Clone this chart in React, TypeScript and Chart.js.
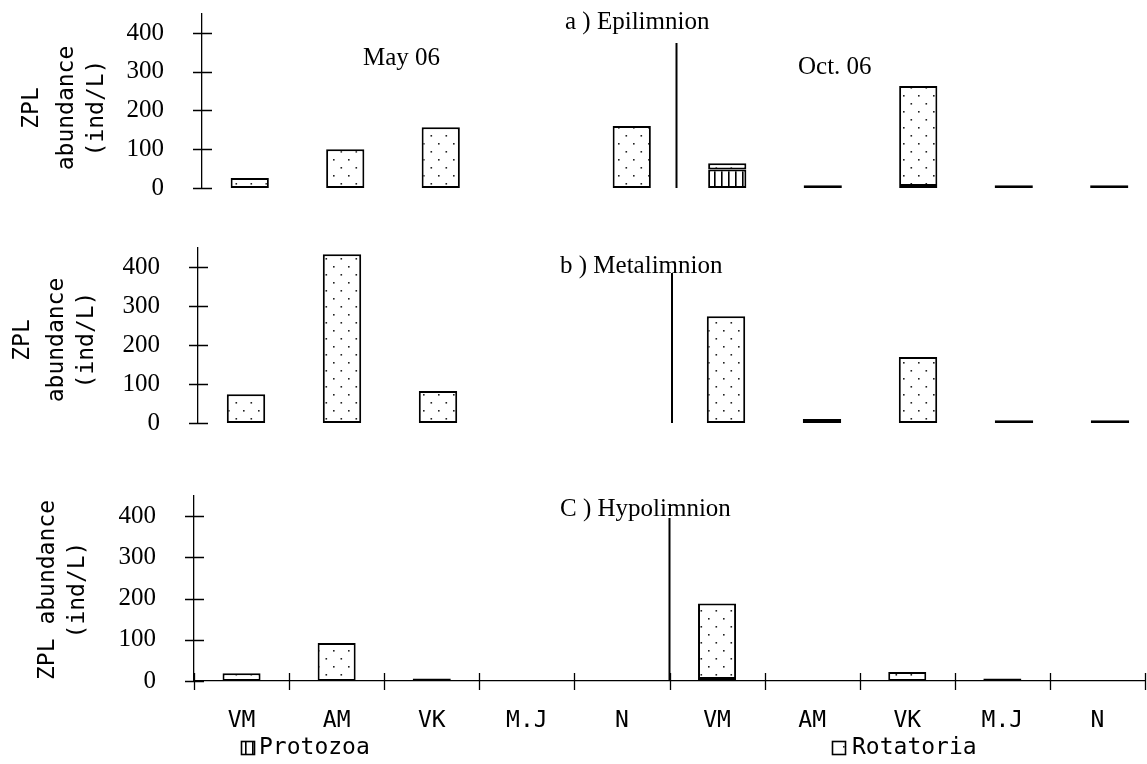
import React, { useEffect, useRef } from 'react';
import { Chart, registerables } from 'chart.js';

Chart.register(...registerables);

// Sampling sites: May 06 (first five) and Oct. 06 (last five)
const sites = ['VM', 'AM', 'VK', 'M.J', 'N', 'VM', 'AM', 'VK', 'M.J', 'N'];
const groups = ['Protozoa', 'Rotatoria'];
const seasons = ['May 06', 'Oct. 06'];
const yTickValues = [0, 100, 200, 300, 400];
const yAxisMax = 450;

// ZPL abundance (ind/L) per layer
const epiProtozoa = [0, 0, 0, 0, 0, 48, 7, 5, 7, 7];
const epiRotatoria = [26, 100, 157, 0, 160, 16, 0, 258, 0, 0];
const metaProtozoa = [0, 0, 0, 0, 0, 0, 0, 0, 7, 7];
const metaRotatoria = [74, 433, 82, 0, 0, 274, 10, 169, 0, 0];
const hypoProtozoa = [0, 0, 6, 0, 0, 5, 0, 0, 6, 0];
const hypoRotatoria = [19, 92, 0, 0, 0, 183, 0, 22, 0, 0];

const SERIF = '"Liberation Serif", "Times New Roman", serif';
const MONO = '"DejaVu Sans Mono", monospace';

type Panel = {
  title: string;
  protozoa: number[];
  rotatoria: number[];
  top: number;
  height: number;
  width: number;
  axisX: number;
  padTop: number;
  padBottom: number;
  padRight: number;
  showX: boolean;
  titleAt: [number, number];
  notes: [string, number, number][];
  yTitle: [string, number][];
  yTitleY: number;
  dividerDx: number;
  dividerTop: number;
  legend: boolean;
};

const panels: Panel[] = [
  {
    title: 'a ) Epilimnion',
    protozoa: epiProtozoa,
    rotatoria: epiRotatoria,
    top: -20, height: 232, width: 1160,
    axisX: 202, padTop: 33.6, padBottom: 24, padRight: 3,
    showX: false,
    titleAt: [565, 29],
    notes: [[seasons[0], 363, 65], [seasons[1], 798, 74]],
    yTitle: [['ZPL', 32], ['abundance', 67], ['(ind/L)', 97]],
    yTitleY: 108,
    dividerDx: -3, dividerTop: 43,
    legend: false,
  },
  {
    title: 'b ) Metalimnion',
    protozoa: metaProtozoa,
    rotatoria: metaRotatoria,
    top: 215, height: 232, width: 1160,
    axisX: 198, padTop: 32.5, padBottom: 24, padRight: 2,
    showX: false,
    titleAt: [560, 273],
    notes: [],
    yTitle: [['ZPL', 23], ['abundance', 57], ['(ind/L)', 87]],
    yTitleY: 340,
    dividerDx: -6, dividerTop: 273,
    legend: false,
  },
  {
    title: 'C ) Hypolimnion',
    protozoa: hypoProtozoa,
    rotatoria: hypoRotatoria,
    top: 455, height: 309, width: 1147,
    axisX: 194, padTop: 40.4, padBottom: 33, padRight: 2,
    showX: true,
    titleAt: [560, 516],
    notes: [],
    yTitle: [['ZPL abundance', 48], ['(ind/L)', 78]],
    yTitleY: 590,
    dividerDx: 0, dividerTop: 518,
    legend: true,
  },
];

// legend swatch x and text x (page coordinates), shared centre line
const legendSlots: [number, number][] = [[241, 259], [832, 852]];
const legendY = 748;

function dotPattern(): CanvasPattern | string {
  const c = document.createElement('canvas');
  c.width = 15;
  c.height = 16;
  const g = c.getContext('2d');
  if (!g) return '#fff';
  g.fillStyle = '#fff';
  g.fillRect(0, 0, 15, 16);
  g.fillStyle = '#222';
  g.fillRect(3, 3, 1.6, 1.6);
  g.fillRect(10.5, 11, 1.6, 1.6);
  return g.createPattern(c, 'repeat') || '#fff';
}

function stripePattern(): CanvasPattern | string {
  const c = document.createElement('canvas');
  c.width = 7;
  c.height = 4;
  const g = c.getContext('2d');
  if (!g) return '#888';
  g.fillStyle = '#fff';
  g.fillRect(0, 0, 7, 4);
  g.fillStyle = '#000';
  g.fillRect(0, 0, 1.6, 4);
  return g.createPattern(c, 'repeat') || '#888';
}

function decorPlugin(p: Panel) {
  return {
    id: 'panelDecor',
    afterDraw(chart: any) {
      const { ctx, chartArea } = chart;
      const xs = chart.scales.x;
      const ys = chart.scales.y;
      const oy = p.top;
      ctx.save();
      ctx.strokeStyle = '#000';
      ctx.lineWidth = 1.3;
      ctx.beginPath();
      for (const v of yTickValues) {
        const py = Math.round(ys.getPixelForValue(v)) + 0.5;
        ctx.moveTo(chartArea.left - 9, py);
        ctx.lineTo(chartArea.left + 10, py);
      }
      if (p.showX) {
        for (let i = 0; i <= sites.length; i++) {
          const px = Math.round(xs.getPixelForValue(i - 0.5)) + 0.5;
          ctx.moveTo(px, chartArea.bottom - 8);
          ctx.lineTo(px, chartArea.bottom + 9);
        }
      }
      ctx.stroke();

      // separator between the May and October sampling campaigns
      const sx = xs.getPixelForValue(4.5) + p.dividerDx;
      ctx.lineWidth = 2;
      ctx.beginPath();
      ctx.moveTo(sx, p.dividerTop - oy);
      ctx.lineTo(sx, chartArea.bottom);
      ctx.stroke();

      ctx.fillStyle = '#000';
      ctx.font = `25px ${SERIF}`;
      ctx.textAlign = 'left';
      ctx.textBaseline = 'alphabetic';
      ctx.fillText(p.title, p.titleAt[0], p.titleAt[1] - oy);
      for (const [t, x, y] of p.notes) ctx.fillText(t, x, y - oy);

      // rotated y-axis title, one column per line
      ctx.font = `23px ${MONO}`;
      ctx.textAlign = 'center';
      ctx.textBaseline = 'middle';
      for (const [t, x] of p.yTitle) {
        ctx.save();
        ctx.translate(x, p.yTitleY - oy);
        ctx.rotate(-Math.PI / 2);
        ctx.fillText(t, 0, 0);
        ctx.restore();
      }

      if (p.legend) {
        chart.data.datasets.forEach((ds: any, i: number) => {
          const [bx, tx] = legendSlots[i];
          const by = legendY - 7 - oy;
          ctx.fillStyle = ds.backgroundColor;
          ctx.fillRect(bx, by, 14, 14);
          ctx.lineWidth = 1.6;
          ctx.strokeStyle = '#000';
          ctx.strokeRect(bx + 0.5, by + 0.5, 13, 13);
          ctx.fillStyle = '#000';
          ctx.font = `23px ${MONO}`;
          ctx.textAlign = 'left';
          ctx.textBaseline = 'middle';
          ctx.fillText(ds.label, tx, legendY - oy);
        });
      }
      ctx.restore();
    },
  };
}

function PanelChart({ p }: { p: Panel }) {
  const ref = useRef<HTMLCanvasElement | null>(null);
  useEffect(() => {
    if (!ref.current) return;
    const stripes = stripePattern();
    const dots = dotPattern();
    const barStyle = {
      borderColor: '#000',
      borderWidth: 2,
      borderSkipped: false,
      barPercentage: 0.4,
      categoryPercentage: 1,
    };
    const chart = new Chart(ref.current, {
      type: 'bar',
      data: {
        labels: sites,
        datasets: [
          { label: groups[0], data: p.protozoa, backgroundColor: stripes as any, ...barStyle },
          { label: groups[1], data: p.rotatoria, backgroundColor: dots as any, ...barStyle },
        ],
      },
      options: {
        responsive: false,
        animation: false,
        events: [],
        layout: { padding: { left: 0, top: p.padTop, right: p.padRight, bottom: p.padBottom } },
        plugins: { legend: { display: false }, tooltip: { enabled: false } },
        scales: {
          x: {
            stacked: true,
            display: p.showX,
            grid: { display: false, drawTicks: false },
            border: { display: true, color: '#000', width: 1.3 },
            ticks: {
              color: '#000',
              font: { family: MONO, size: 23 },
              padding: 26,
              autoSkip: false,
              maxRotation: 0,
              minRotation: 0,
            },
            afterFit: (s: any) => {
              if (p.showX) s.height = 50;
              s.paddingLeft = 0;
              s.paddingRight = 0;
              s.paddingTop = 0;
              s.paddingBottom = 0;
            },
          },
          y: {
            stacked: true,
            min: 0,
            max: yAxisMax,
            afterBuildTicks: (s: any) => {
              s.ticks = yTickValues.map((v) => ({ value: v }));
            },
            grid: { display: false, drawTicks: false },
            border: { display: true, color: '#000', width: 1.3 },
            ticks: {
              color: '#000',
              font: { family: SERIF, size: 25 },
              padding: 38,
              autoSkip: false,
            },
            afterFit: (s: any) => {
              s.width = p.axisX;
              s.paddingLeft = 0;
              s.paddingRight = 0;
              s.paddingTop = 0;
              s.paddingBottom = 0;
            },
          },
        },
      },
      plugins: [decorPlugin(p)],
    } as any);
    return () => chart.destroy();
  }, [p]);
  return (
    <canvas
      ref={ref}
      width={p.width}
      height={p.height}
      style={{ position: 'absolute', left: 0, top: p.top, width: p.width, height: p.height }}
    />
  );
}

export default function App() {
  return (
    <div
      style={{
        position: 'absolute',
        left: 0,
        top: 0,
        width: 1147,
        height: 764,
        overflow: 'hidden',
        background: '#fff',
      }}
    >
      {panels.map((p) => (
        <PanelChart key={p.title} p={p} />
      ))}
    </div>
  );
}
